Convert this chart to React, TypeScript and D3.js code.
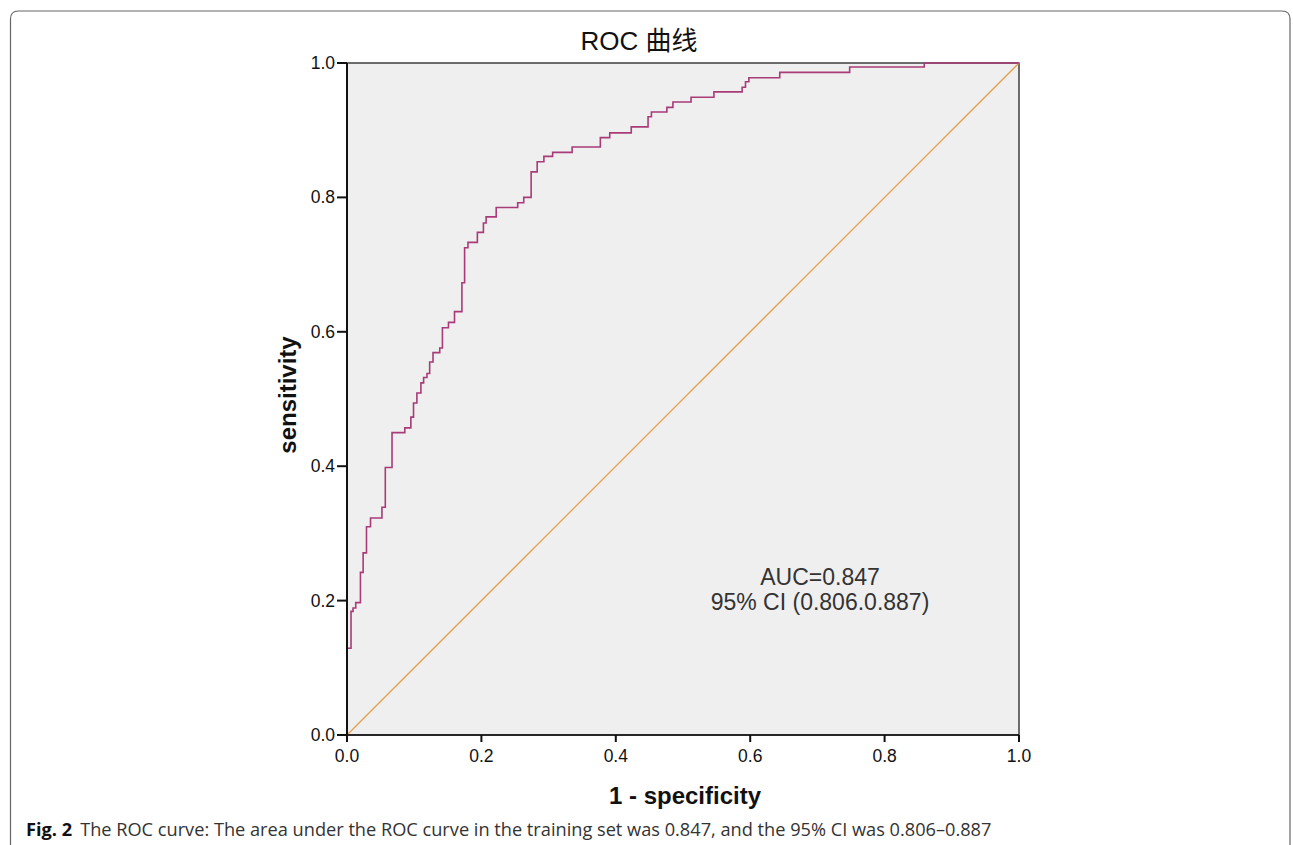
import React from "react";
import * as d3 from "d3";

// ROC curve corner points
const fpr = [
  0, 0, 0.006, 0.009, 0.013, 0.02, 0.024, 0.029, 0.035, 0.052, 0.057, 0.067,
  0.086, 0.095, 0.099, 0.104, 0.11, 0.114, 0.119, 0.123, 0.128, 0.138, 0.142,
  0.151, 0.16, 0.171, 0.175, 0.18, 0.194, 0.203, 0.207, 0.222, 0.254, 0.263,
  0.274, 0.283, 0.293, 0.306, 0.335, 0.377, 0.391, 0.423, 0.448, 0.453, 0.476,
  0.485, 0.512, 0.546, 0.588, 0.593, 0.598, 0.644, 0.748, 0.859, 1,
];
const tpr = [
  0, 0.129, 0.184, 0.189, 0.197, 0.242, 0.271, 0.31, 0.323, 0.339, 0.398, 0.45,
  0.457, 0.473, 0.494, 0.509, 0.524, 0.532, 0.538, 0.555, 0.569, 0.576, 0.606,
  0.614, 0.63, 0.673, 0.725, 0.733, 0.748, 0.762, 0.771, 0.785, 0.792, 0.8,
  0.838, 0.853, 0.861, 0.867, 0.875, 0.889, 0.896, 0.905, 0.92, 0.927, 0.934,
  0.942, 0.949, 0.957, 0.964, 0.972, 0.978, 0.986, 0.994, 1, 1,
];
const ticks = [0, 0.2, 0.4, 0.6, 0.8, 1.0];
const refLine = [0, 1];

const W = 1293;
const H = 845;
const plot = { l: 347, r: 1019, t: 63, b: 735 };

export default function App() {
  const x = d3.scaleLinear().domain([0, 1]).range([plot.l, plot.r]);
  const y = d3.scaleLinear().domain([0, 1]).range([plot.b, plot.t]);

  const pts: [number, number][] = fpr.map((f, i) => [f, tpr[i]]);
  const roc = d3
    .line<[number, number]>()
    .x((d) => x(d[0]))
    .y((d) => y(d[1]))
    .curve(d3.curveStepAfter)(pts);
  const diag = d3
    .line<number>()
    .x((d) => x(d))
    .y((d) => y(d))(refLine);

  const sans = "'Liberation Sans', Arial, sans-serif";

  return (
    <svg
      width={W}
      height={H}
      style={{ position: "absolute", left: 0, top: 0, background: "#fff" }}
    >
      {/* figure frame */}
      <path
        d={`M10.5,${H + 5} L10.5,19 Q10.5,11 18.5,11 L1282,11 Q1290,11 1290,19 L1290,${H + 5}`}
        fill="none"
        stroke="#666"
        strokeWidth={1.2}
      />

      <text
        x={639}
        y={49.5}
        textAnchor="middle"
        fontFamily={`${sans}, 'Noto Sans CJK SC'`}
        fontSize={26}
        fill="#111"
      >
        ROC 曲线
      </text>

      <rect
        x={plot.l}
        y={plot.t}
        width={plot.r - plot.l}
        height={plot.b - plot.t}
        fill="#efefef"
        stroke="#222"
        strokeWidth={1.3}
      />

      <path d={diag ?? ""} fill="none" stroke="#ea9f4e" strokeWidth={1.3} />
      <path d={roc ?? ""} fill="none" stroke="#a83b78" strokeWidth={1.6} />

      {/* axes lines */}
      <line x1={plot.l} x2={plot.l} y1={plot.t} y2={plot.b + 7} stroke="#111" strokeWidth={2} />
      <line x1={plot.l - 10} x2={plot.r} y1={plot.b} y2={plot.b} stroke="#111" strokeWidth={1.3} />

      {ticks.map((t) => (
        <g key={"y" + t}>
          <line x1={plot.l - 10} x2={plot.l} y1={y(t)} y2={y(t)} stroke="#111" strokeWidth={2} />
          <text
            x={plot.l - 12}
            y={y(t) + 6}
            textAnchor="end"
            fontFamily={sans}
            fontSize={17.5}
            fill="#111"
          >
            {t.toFixed(1)}
          </text>
        </g>
      ))}
      {ticks.map((t) => (
        <g key={"x" + t}>
          <line x1={x(t)} x2={x(t)} y1={plot.b} y2={plot.b + 7} stroke="#111" strokeWidth={2} />
          <text
            x={x(t)}
            y={plot.b + 27}
            textAnchor="middle"
            fontFamily={sans}
            fontSize={17.5}
            fill="#111"
          >
            {t.toFixed(1)}
          </text>
        </g>
      ))}

      <text
        transform={`translate(296,${395}) rotate(-90)`}
        textAnchor="middle"
        fontFamily={sans}
        fontWeight="bold"
        fontSize={24}
        fill="#111"
      >
        sensitivity
      </text>
      <text
        x={685}
        y={804}
        textAnchor="middle"
        fontFamily={sans}
        fontWeight="bold"
        fontSize={24}
        fill="#111"
      >
        1 - specificity
      </text>

      <text x={820} y={585} textAnchor="middle" fontFamily={sans} fontSize={23} fill="#333">
        AUC=0.847
      </text>
      <text x={820} y={610} textAnchor="middle" fontFamily={sans} fontSize={23} fill="#333">
        95% CI (0.806.0.887)
      </text>

      <text x={26} y={836} fontFamily="'Open Sans', 'Noto Sans', sans-serif" fontSize={18.2} fill="#333">
        <tspan fontWeight="bold" fill="#111">Fig. 2</tspan>
        <tspan dx={8}>
          The ROC curve: The area under the ROC curve in the training set was 0.847, and the 95% CI was 0.806–0.887
        </tspan>
      </text>
    </svg>
  );
}
